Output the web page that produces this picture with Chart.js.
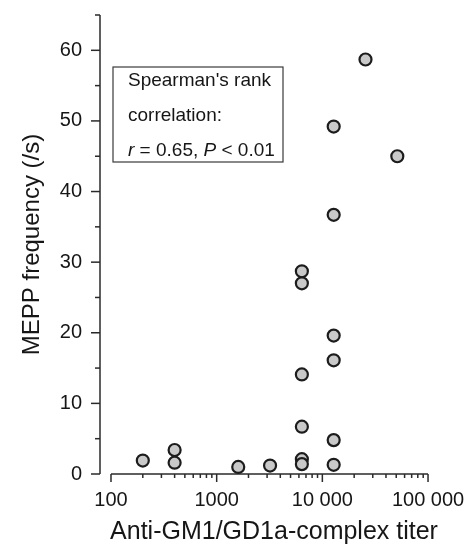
<!DOCTYPE html>
<html lang="en">
<head>
<meta charset="UTF-8" />
<title>MEPP frequency vs anti-GM1/GD1a-complex titer</title>
<script src="https://cdn.jsdelivr.net/npm/chart.js"></script>
<style>
  html, body { margin: 0; padding: 0; background: #fff; }
  #wrap { width: 471px; height: 556px; }
</style>
</head>
<body>
<div id="wrap"><canvas id="myChart" width="471" height="556"></canvas></div>
<script>
// one entry per patient: antibody titer (x) and MEPP frequency (y)
const titers = [200, 400, 400, 1600, 3200,
  6400, 6400, 6400, 6400, 6400, 6400,
  12800, 12800, 12800, 12800, 12800, 12800,
  25600, 51200];
const meppFreq = [1.9, 3.4, 1.6, 1.0, 1.2,
  28.7, 27.0, 14.1, 6.7, 2.1, 1.4,
  49.2, 36.7, 19.6, 16.1, 4.8, 1.3,
  58.7, 45.0];

const xTickValues = [100, 1000, 10000, 100000];
const xTickLabels = ['100', '1000', '10 000', '100 000'];
const yTickValues = [0, 10, 20, 30, 40, 50, 60];
const yMinorStep = 5;
const yTop = 65;

const statsLines = ["Spearman's rank", 'correlation:'];
// last line has italic symbols
const statsLast = [['r', true], [' = 0.65, ', false], ['P', true], [' < 0.01', false]];

const FONT = "'Liberation Sans', Arial, sans-serif";
const INK = '#161616';

// minor ticks between the labelled decades
const xAllTicks = [];
for (let d = 0; d < xTickValues.length; d++) {
  xAllTicks.push(xTickValues[d]);
  if (d < xTickValues.length - 1) {
    for (let m = 2; m <= 9; m++) xAllTicks.push(xTickValues[d] * m);
  }
}
const yAllTicks = [];
for (let v = 0; v <= yTop; v += yMinorStep) yAllTicks.push(v);

const axesPlugin = {
  id: 'axesPlugin',
  beforeDatasetsDraw(chart) {
    const { ctx, chartArea, scales } = chart;
    const xs = scales.x, ys = scales.y;
    ctx.save();
    ctx.strokeStyle = '#2a2a2a';
    ctx.lineWidth = 1.5;

    // y axis
    const yx = chartArea.left;
    ctx.beginPath();
    ctx.moveTo(yx, ys.getPixelForValue(yTop));
    ctx.lineTo(yx, ys.getPixelForValue(0));
    ctx.stroke();
    yAllTicks.forEach((v) => {
      const py = ys.getPixelForValue(v);
      const len = yTickValues.includes(v) ? 9 : 5;
      ctx.beginPath();
      ctx.moveTo(yx - len, py);
      ctx.lineTo(yx, py);
      ctx.stroke();
    });

    // x axis, detached from the y axis
    const xy = ys.getPixelForValue(0);
    ctx.beginPath();
    ctx.moveTo(xs.getPixelForValue(xTickValues[0]), xy);
    ctx.lineTo(xs.getPixelForValue(xTickValues[xTickValues.length - 1]), xy);
    ctx.stroke();
    xAllTicks.forEach((v) => {
      const px = xs.getPixelForValue(v);
      const len = xTickValues.includes(v) ? 8 : 4;
      ctx.beginPath();
      ctx.moveTo(px, xy);
      ctx.lineTo(px, xy + len);
      ctx.stroke();
    });
    ctx.restore();
  },
  afterDatasetsDraw(chart) {
    const { ctx, chartArea } = chart;
    const bx = chartArea.left + 13, by = chartArea.top + 52;
    const bw = 170, bh = 95;
    ctx.save();
    ctx.strokeStyle = '#3a3a3a';
    ctx.lineWidth = 1.2;
    ctx.strokeRect(bx, by, bw, bh);

    ctx.fillStyle = INK;
    ctx.textBaseline = 'middle';
    ctx.textAlign = 'left';
    const tx = bx + 15;
    ctx.font = '19px ' + FONT;
    ctx.fillText(statsLines[0], tx, by + 14);
    ctx.fillText(statsLines[1], tx, by + 49);
    let cx = tx;
    statsLast.forEach(([txt, it]) => {
      ctx.font = (it ? 'italic ' : '') + '19px ' + FONT;
      ctx.fillText(txt, cx, by + 84);
      cx += ctx.measureText(txt).width;
    });
    ctx.restore();
  }
};

const ctx = document.getElementById('myChart');

const config = {
  type: 'scatter',
  data: {
    datasets: [{
      label: 'MEPP frequency',
      data: titers.map((t, i) => ({ x: t, y: meppFreq[i] })),
      backgroundColor: '#c9c9c9',
      borderColor: '#1c1c1c',
      borderWidth: 2.2,
      pointRadius: 6,
      pointHoverRadius: 6,
      clip: false
    }]
  },
  options: {
    responsive: false,
    animation: false,
    layout: { padding: { top: 15, right: 23, left: 0, bottom: 0 } },
    plugins: {
      legend: { display: false },
      tooltip: { enabled: false }
    },
    scales: {
      x: {
        type: 'logarithmic',
        min: 78.7,
        max: 154500,
        afterBuildTicks: (s) => { s.ticks = xAllTicks.map((v) => ({ value: v })); },
        afterFit: (s) => {
          s.height = 82;
          s.paddingLeft = 0;
          s.paddingRight = 0;
        },
        grid: { display: false, drawTicks: false },
        border: { display: false },
        ticks: {
          autoSkip: false,
          maxRotation: 0,
          padding: 14,
          color: INK,
          font: { family: FONT, size: 20 },
          callback: (value) => {
            const i = xTickValues.indexOf(value);
            return i >= 0 ? xTickLabels[i] : '';
          }
        },
        title: {
          display: true,
          text: 'Anti-GM1/GD1a-complex titer',
          color: INK,
          font: { family: FONT, size: 25 },
          padding: { top: 0, bottom: 9 }
        }
      },
      y: {
        min: 0,
        max: yTop,
        afterBuildTicks: (s) => { s.ticks = yAllTicks.map((v) => ({ value: v })); },
        afterFit: (s) => {
          s.width = 100;
          s.paddingTop = 0;
          s.paddingBottom = 0;
        },
        grid: { display: false, drawTicks: false },
        border: { display: false },
        ticks: {
          autoSkip: false,
          padding: 18,
          color: INK,
          font: { family: FONT, size: 20 },
          callback: (value) => (yTickValues.includes(value) ? String(value) : '')
        },
        title: {
          display: true,
          text: 'MEPP frequency (/s)',
          color: INK,
          font: { family: FONT, size: 24 },
          padding: { top: 18, bottom: 0 }
        }
      }
    }
  },
  plugins: [axesPlugin]
};

new Chart(ctx, config);
</script>
</body>
</html>
